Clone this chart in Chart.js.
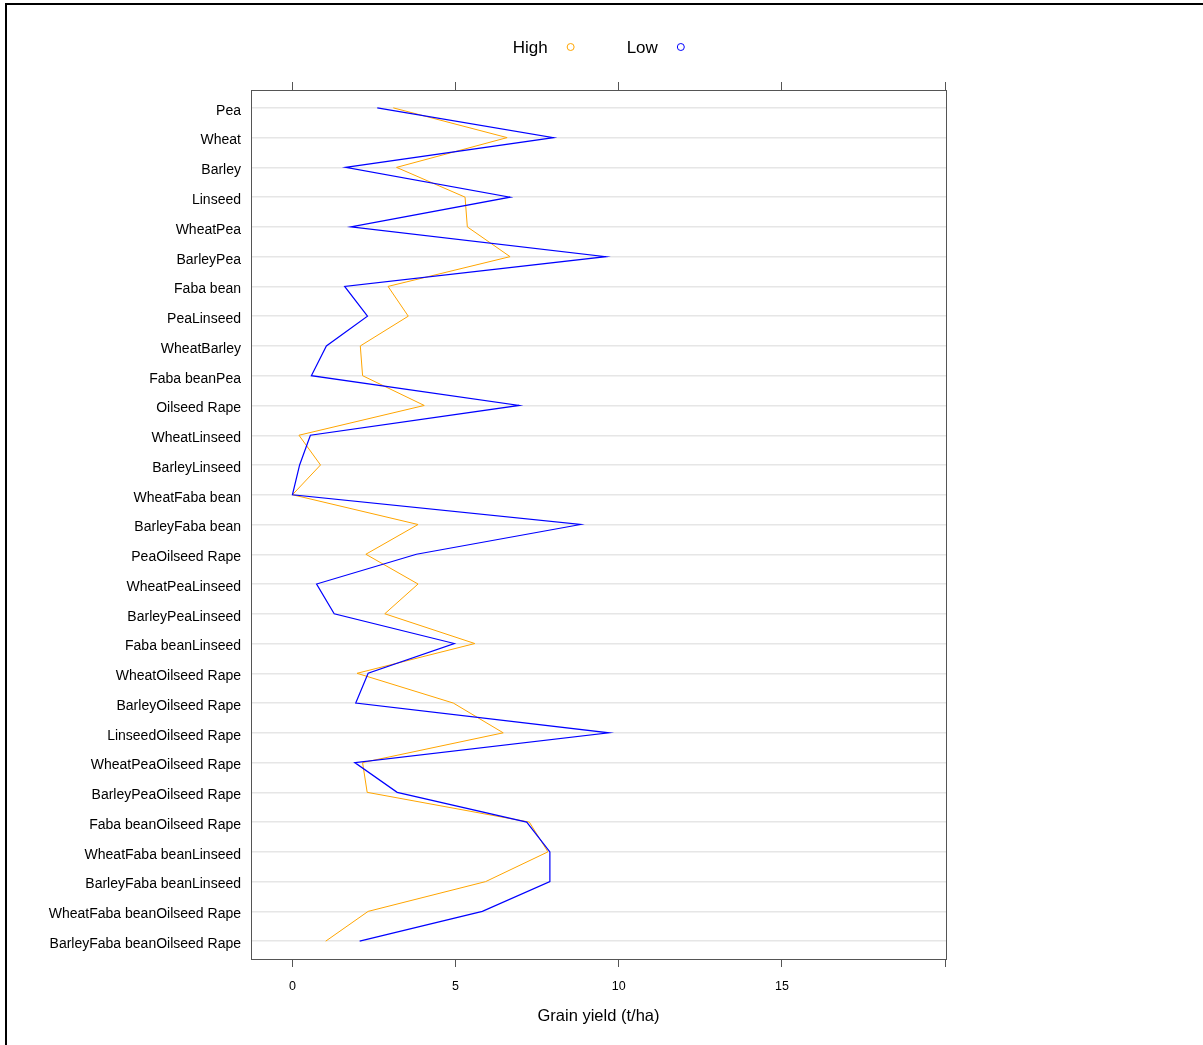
<!DOCTYPE html>
<html>
<head>
<meta charset="utf-8">
<title>Grain yield</title>
<script src="https://cdn.jsdelivr.net/npm/chart.js@4.4.1/dist/chart.umd.min.js"></script>
<style>
  html, body { margin: 0; padding: 0; background: #fff; overflow: hidden; }
  .wrap { position: relative; width: 1203px; height: 1045px; }
  canvas { display: block; }
  .frame {
    position: absolute; left: 5px; top: 3px; width: 1198px; height: 1042px;
    border-top: 2px solid #000; border-left: 2px solid #000;
    box-sizing: border-box;
    pointer-events: none;
  }
</style>
</head>
<body>
<div class="wrap">
  <canvas id="yieldChart" width="1203" height="1045"></canvas>
  <div class="frame"></div>
</div>
<script>
const categories = [
  'Pea', 'Wheat', 'Barley', 'Linseed', 'WheatPea', 'BarleyPea', 'Faba bean',
  'PeaLinseed', 'WheatBarley', 'Faba beanPea', 'Oilseed Rape', 'WheatLinseed',
  'BarleyLinseed', 'WheatFaba bean', 'BarleyFaba bean', 'PeaOilseed Rape',
  'WheatPeaLinseed', 'BarleyPeaLinseed', 'Faba beanLinseed', 'WheatOilseed Rape',
  'BarleyOilseed Rape', 'LinseedOilseed Rape', 'WheatPeaOilseed Rape',
  'BarleyPeaOilseed Rape', 'Faba beanOilseed Rape', 'WheatFaba beanLinseed',
  'BarleyFaba beanLinseed', 'WheatFaba beanOilseed Rape', 'BarleyFaba beanOilseed Rape'
];

const highYield = [
  3.09, 6.58, 3.19, 5.29, 5.36, 6.67, 2.93, 3.55, 2.08, 2.15, 4.04, 0.20,
  0.86, 0.00, 3.85, 2.25, 3.85, 2.83, 5.59, 1.98, 4.93, 6.46, 2.15, 2.29,
  7.26, 7.83, 5.92, 2.32, 1.02
];

const lowYield = [
  2.60, 8.00, 1.63, 6.67, 1.79, 9.60, 1.60, 2.30, 1.04, 0.58, 6.95, 0.55,
  0.22, 0.00, 8.83, 3.80, 0.74, 1.28, 4.96, 2.32, 1.94, 9.70, 1.91, 3.21,
  7.18, 7.89, 7.89, 5.82, 2.06
];

const xTicks = [0, 5, 10, 15, 20];
const xTickLabels = ['0', '5', '10', '15', ''];

const FONT = 'Liberation Sans, Arial, Helvetica, sans-serif';

// open-circle key drawn to the right of each label, like lattice does it
const keyPlugin = {
  id: 'key',
  afterDraw(chart) {
    const ctx = chart.ctx;
    const area = chart.chartArea;
    ctx.save();
    ctx.font = '17px ' + FONT;
    ctx.textBaseline = 'middle';
    const items = chart.data.datasets.map(ds => ({
      text: ds.label, color: ds.borderColor, w: ctx.measureText(ds.label).width
    }));
    const gap = 23, r = 3.5, between = 52.5;
    let total = 0;
    items.forEach((it, i) => { total += it.w + gap + r + (i ? between : 0); });
    let x = (area.left + area.right) / 2 - total / 2;
    const y = 48;
    items.forEach(it => {
      ctx.fillStyle = '#000';
      ctx.textAlign = 'left';
      ctx.fillText(it.text, x, y);
      ctx.beginPath();
      ctx.arc(x + it.w + gap, y - 1, r, 0, Math.PI * 2);
      ctx.strokeStyle = it.color;
      ctx.lineWidth = 1;
      ctx.stroke();
      x += it.w + gap + r + between;
    });
    ctx.restore();
  }
};

const framePlugin = {
  id: 'frame',
  afterDraw(chart) {
    const {ctx, chartArea: a} = chart;
    ctx.save();
    ctx.strokeStyle = '#555';
    ctx.lineWidth = 1;
    ctx.strokeRect(Math.round(a.left) + 0.5, Math.round(a.top) + 0.5,
      Math.round(a.right - a.left), Math.round(a.bottom - a.top));
    ctx.restore();
  }
};

const setXTicks = scale => { scale.ticks = xTicks.map(v => ({ value: v })); };

new Chart(document.getElementById('yieldChart'), {
  type: 'line',
  data: {
    datasets: [
      {
        label: 'High',
        data: highYield.map((v, i) => ({ x: v, y: i })),
        borderColor: '#FFA500',
        backgroundColor: 'rgba(0,0,0,0)',
        borderWidth: 1,
        pointRadius: 0,
        order: 1
      },
      {
        label: 'Low',
        data: lowYield.map((v, i) => ({ x: v, y: i })),
        borderColor: '#0000FF',
        backgroundColor: 'rgba(0,0,0,0)',
        borderWidth: 1.2,
        pointRadius: 0,
        order: 0
      }
    ]
  },
  options: {
    responsive: false,
    animation: false,
    events: [],
    layout: { padding: { top: 82, right: 257, bottom: 0, left: 0 } },
    plugins: {
      legend: { display: false },
      tooltip: { enabled: false }
    },
    scales: {
      x: {
        type: 'linear',
        position: 'bottom',
        min: -1.27,
        max: 20.03,
        afterBuildTicks: setXTicks,
        afterFit: s => { s.height = 86; },
        grid: { drawOnChartArea: false, drawTicks: true, tickLength: 8, color: '#555' },
        border: { display: false },
        ticks: {
          color: '#000',
          padding: 12,
          maxRotation: 0,
          font: { family: FONT, size: 12.5 },
          callback: (v, i) => xTickLabels[i]
        },
        title: {
          display: true,
          text: 'Grain yield (t/ha)',
          color: '#000',
          font: { family: FONT, size: 16.5 },
          padding: { top: 0, bottom: 19 }
        }
      },
      xTop: {
        type: 'linear',
        position: 'top',
        min: -1.27,
        max: 20.03,
        afterBuildTicks: setXTicks,
        afterFit: s => { s.height = 8; },
        grid: { drawOnChartArea: false, drawTicks: true, tickLength: 8, color: '#555' },
        border: { display: false },
        ticks: { display: false }
      },
      y: {
        type: 'linear',
        reverse: true,
        min: -0.6,
        max: categories.length - 0.4,
        afterBuildTicks: s => { s.ticks = categories.map((c, i) => ({ value: i })); },
        afterFit: s => { s.width = 251; },
        grid: { color: '#e6e6e6', lineWidth: 1.4, drawTicks: false },
        border: { display: false },
        ticks: {
          color: '#000',
          padding: 10,
          labelOffset: 3,
          autoSkip: false,
          font: { family: FONT, size: 14 },
          callback: v => categories[v]
        }
      }
    }
  },
  plugins: [keyPlugin, framePlugin]
});
</script>
</body>
</html>
